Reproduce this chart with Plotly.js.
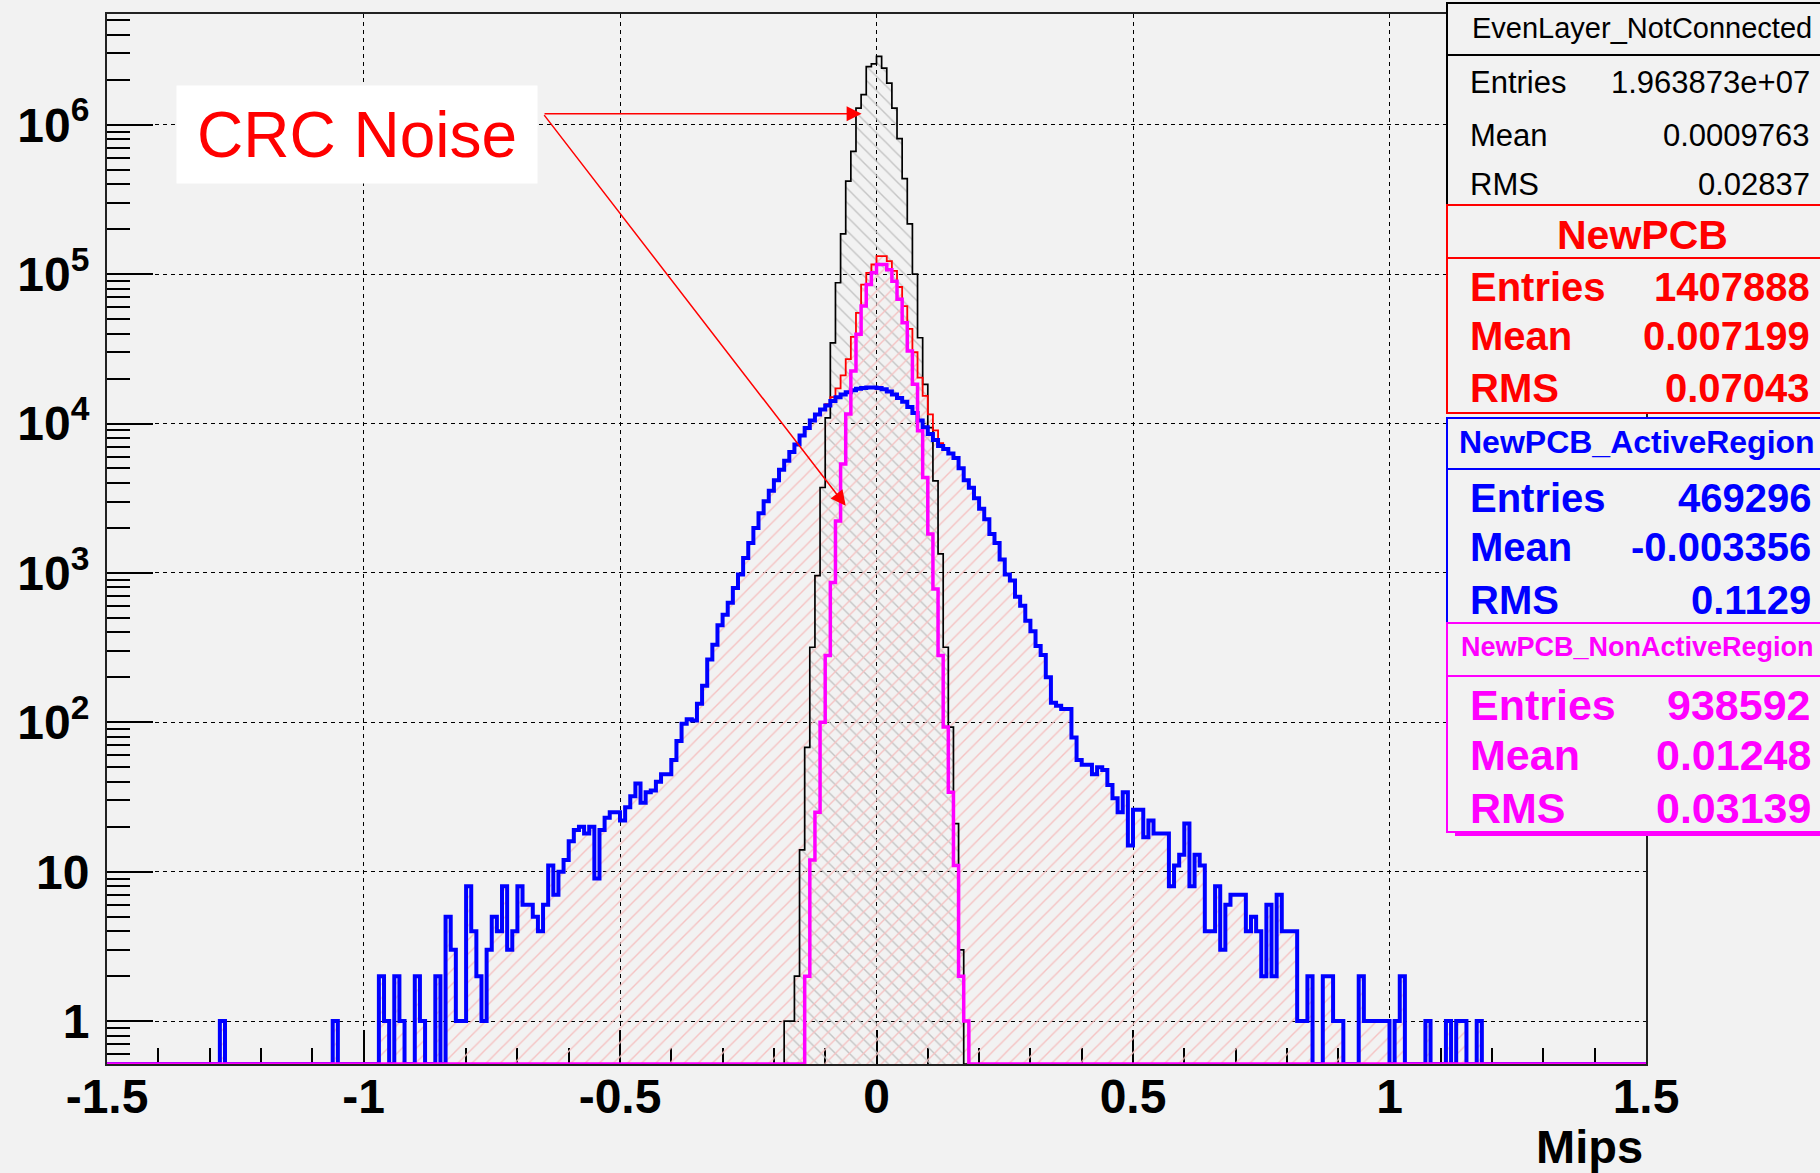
<!DOCTYPE html>
<html>
<head>
<meta charset="utf-8">
<script src="https://cdn.plot.ly/plotly-3.0.1.min.js"></script>
<style>
html,body{margin:0;padding:0;background:#f2f2f2;}
#chart{width:1820px;height:1173px;}
</style>
</head>
<body>
<div id="chart"></div>
<script>
// ---------------- DATA ----------------
const X_MIN = -1.5, X_MAX = 1.5, BIN_WIDTH = 0.01;

// EvenLayer_NotConnected (black), bins of 0.01 starting at blackStart
const blackStart = -0.18;
const blackCounts = [1,1,2,14,68,318,958,3730,10900,34700,
  87500,186000,419000,664000,1290000,1590000,2450000,2550000,
  2870000,2390000,1900000,1290000,807000,436000,217000,100000,37500,18300,
  9400,4130,1340,318,93,21,3];

// NewPCB_ActiveRegion (blue)
const blueStart = -1.28;
const blueCounts = [
  1, 0,0,0,0,0,0,0, 0,0,0,0,0,0,0,0,0,0, 0,0,0,0,
  1, 0,0,0,0,0, 0,0,0,
  2,1,0,2,1,0,0,
  2,1,0,0,2,0,5,3,1,1,
  8,4,2,1,3,5,4,8,3,4,
  8,6,6,5,4,6,11,7,10,12,
  16,19,20,18,20,9,19,23,25,25,
  22,27,32,39,29,34,35,40,45,45,
  56,75,98,105,103,133,176,263,331,447,
  525,631,794,977,1259,1585,1995,2512,3020,3548,
  4169,4898,5623,6457,7244,8318,9333,10471,11482,12400,
  13183,14125,14962,15668,16218,16672,17061,17298,17418,17418,
  17298,16982,16406,15668,14791,13964,12882,11749,10471,9441,
  8511,7762,7079,6761,6310,5888,5012,4169,3715,3162,
  2692,2291,1820,1585,1230,977,891,692,603,479,
  407,324,282,200,135,129,123,123,79,56,
  52,52,45,50,48,38,31,25,34,15,
  26,26,17,22,18,18,18,8,11,13,
  21,8,13,11,4,4,8,3,6,7,
  7,7,4,5,4,2,6,2,7,4,
  4,4,1,1,2,0,0,2,2,1,
  1,0,0,0,2,1,1,1,1,1,
  0,1,2,0,0,0,0,1,0,0,
  0,1,0,1,1,0,0,1];

// NewPCB (red)
const redStart = -1.28;
const redCounts = [
  1, 0,0,0,0,0,0,0, 0,0,0,0,0,0,0,0,0,0, 0,0,0,0,
  1, 0,0,0,0,0, 0,0,0,
  2,1,0,2,1,0,0,
  2,1,0,0,2,0,5,3,1,1,
  8,4,2,1,3,5,4,8,3,4,
  8,6,6,5,4,6,11,7,10,12,
  16,19,20,18,20,9,19,23,25,25,
  22,27,32,39,29,34,35,40,45,45,
  56,75,98,105,103,133,176,263,331,447,
  525,631,794,977,1259,1585,1995,2512,3020,3548,
  4169,4898,5623,6457,7244,8318,9333,10471,11482,12400,
  13500,15000,17200,21000,27000,38000,55000,85000,102000,116000,
  132000,132000,122000,105000,82000,61000,43000,30000,20300,15300,
  11500,9000,7400,6850,6340,5900,5012,4169,3715,3162,
  2692,2291,1820,1585,1230,977,891,692,603,479,
  407,324,282,200,135,129,123,123,79,56,
  52,52,45,50,48,38,31,25,34,15,
  26,26,17,22,18,18,18,8,11,13,
  21,8,13,11,4,4,8,3,6,7,
  7,7,4,5,4,2,6,2,7,4,
  4,4,1,1,2,0,0,2,2,1,
  1,0,0,0,2,1,1,1,1,1,
  0,1,2,0,0,0,0,1,0,0,
  0,1,0,1,1,0,0,1];

// NewPCB_NonActiveRegion (magenta)
const magentaStart = -0.14;
const magentaCounts = [2,12,25,100,280,864,2230,5350,11600,22500,
  39600,61100,85300,102000,116000,116000,107000,89700,67800,47300,
  30600,18300,8930,4350,1820,780,280,93,34,11,2,1];

// Axis ticks
const xTickVals = [-1.5,-1,-0.5,0,0.5,1,1.5];
const xTickText = ['-1.5','-1','-0.5','0','0.5','1','1.5'];
const yTickVals = [1,10,100,1000,10000,100000,1000000];
const yTickText = ['1','10','10<sup>2</sup>','10<sup>3</sup>','10<sup>4</sup>','10<sup>5</sup>','10<sup>6</sup>'];
const xTitle = 'Mips';
const noteText = 'CRC Noise';

// Stats boxes
const statTitles = ['EvenLayer_NotConnected','NewPCB','NewPCB_ActiveRegion','NewPCB_NonActiveRegion'];
const statLabels = ['Entries','Mean','RMS'];
const statValues = [
  ['1.963873e+07','0.0009763','0.02837'],
  ['1407888','0.007199','0.07043'],
  ['469296','-0.003356','0.1129'],
  ['938592','0.01248','0.03139']];

// ---------------- BUILD ----------------
const Y_RANGE = [-0.287, 6.741];
const FLOOR = Math.pow(10, Y_RANGE[0]);
const N_BINS = Math.round((X_MAX - X_MIN) / BIN_WIDTH);
const edges = [];
for (let i = 0; i <= N_BINS; i++) edges.push(+(X_MIN + i * BIN_WIDTH).toFixed(4));

function expand(start, counts) {
  const full = new Array(N_BINS).fill(0);
  const off = Math.round((start - X_MIN) / BIN_WIDTH);
  counts.forEach((c, k) => { full[off + k] = c; });
  return full;
}
function stepY(full) {
  const y = full.map(c => (c > 0 ? c : FLOOR));
  y.push(FLOOR);
  return y;
}
const blackY = stepY(expand(blackStart, blackCounts));
const redY = stepY(expand(redStart, redCounts));
const blueY = stepY(expand(blueStart, blueCounts));
const magentaY = stepY(expand(magentaStart, magentaCounts));

const traces = [
  {x: edges, y: blackY, type: 'scatter', mode: 'lines', line: {shape: 'hv', width: 0, color: 'rgba(0,0,0,0)'},
   fill: 'tozeroy', fillcolor: 'rgba(0,0,0,0)',
   fillpattern: {shape: '\\', fgcolor: '#c4c4c4', bgcolor: 'rgba(0,0,0,0)', size: 10, solidity: 0.14}},
  {x: edges, y: redY, type: 'scatter', mode: 'lines', line: {shape: 'hv', width: 0, color: 'rgba(0,0,0,0)'},
   fill: 'tozeroy', fillcolor: 'rgba(0,0,0,0)',
   fillpattern: {shape: '/', fgcolor: '#f5c2c2', bgcolor: 'rgba(0,0,0,0)', size: 10, solidity: 0.14}},
  {x: edges, y: blackY, type: 'scatter', mode: 'lines', line: {shape: 'hv', width: 1.7, color: '#000000'}},
  {x: edges, y: redY, type: 'scatter', mode: 'lines', line: {shape: 'hv', width: 1.8, color: '#ff0000'}},
  {x: edges, y: blueY, type: 'scatter', mode: 'lines', line: {shape: 'hv', width: 4, color: '#0000ff'}},
  {x: edges, y: magentaY, type: 'scatter', mode: 'lines', line: {shape: 'hv', width: 3.5, color: '#ff00ff'}}
];

// plot-area geometry in pixels
const L = 107, R = 1646, T = 14, B = 1064;
const px = x => (x - L) / (R - L);
const py = y => (B - y) / (B - T);
const FONT = 'Liberation Sans, Arial, Helvetica, sans-serif';

const minorY = [];
for (let d = -1; d <= 6; d++) for (let m = 2; m <= 9; m++) {
  const v = m * Math.pow(10, d);
  if (Math.log10(v) > Y_RANGE[0] && Math.log10(v) < Y_RANGE[1]) minorY.push(v);
}

const shapes = [];
const annotations = [];
function box(x0, y0, y1, ysep, color) {
  shapes.push({type: 'rect', xref: 'paper', yref: 'paper', x0: px(x0), x1: px(1850), y0: py(y1), y1: py(y0),
    fillcolor: '#f2f2f2', line: {color: color, width: 2}, layer: 'above'});
  shapes.push({type: 'line', xref: 'paper', yref: 'paper', x0: px(x0), x1: px(1850), y0: py(ysep), y1: py(ysep),
    line: {color: color, width: 2}, layer: 'above'});
}
function txt(text, x, y, anchor, size, color, bold) {
  annotations.push({text: text, xref: 'paper', yref: 'paper', x: px(x), y: py(y), xanchor: anchor, yanchor: 'middle',
    showarrow: false, font: {family: FONT, size: size, color: color, weight: bold ? 'bold' : 'normal'}});
}

// stats boxes
const boxGeom = [
  {y0: 3, sep: 55, y1: 205, color: '#000000', tx: 1470, ty: 28, tanchor: 'left', tsize: 29, tbold: false, rows: [82, 135, 185], rsize: 31, rbold: false, vx: 1812},
  {y0: 205, sep: 258, y1: 413, color: '#ff0000', tx: 1642, ty: 235, tanchor: 'center', tsize: 41, tbold: true, rows: [287, 336, 388], rsize: 40, rbold: true, vx: 1812},
  {y0: 418, sep: 469, y1: 623, color: '#0000ff', tx: 1457, ty: 442, tanchor: 'left', tsize: 32, tbold: true, rows: [498, 547, 600], rsize: 40, rbold: true, vx: 1813},
  {y0: 623, sep: 676, y1: 832, color: '#ff00ff', tx: 1459, ty: 647, tanchor: 'left', tsize: 27, tbold: true, rows: [705, 755, 808], rsize: 43, rbold: true, vx: 1813}
];
boxGeom.forEach((g, i) => {
  box(1447, g.y0, g.y1, g.sep, g.color);
  txt(statTitles[i], g.tx, g.ty, g.tanchor, g.tsize, g.color, g.tbold);
  statLabels.forEach((lab, j) => {
    txt(lab, 1468, g.rows[j], 'left', g.rsize, g.color, g.rbold);
    txt(statValues[i][j], g.vx, g.rows[j], 'right', g.rsize, g.color, g.rbold);
  });
});
// shadow under last box
shapes.push({type: 'rect', xref: 'paper', yref: 'paper', x0: px(1455), x1: px(1850), y0: py(836), y1: py(832),
  fillcolor: '#ff00ff', line: {width: 0}, layer: 'above'});

// CRC Noise label
annotations.push({text: noteText, xref: 'paper', yref: 'paper', x: px(357), y: py(134.5), xanchor: 'center', yanchor: 'middle',
  showarrow: false, bgcolor: '#ffffff', width: 360, height: 97, borderpad: 0,
  font: {family: FONT, size: 64, color: '#ff0000'}});
// arrows (tail at the label's right edge)
const tail = {x: -0.650, y: 6.074};
[{x: -0.029, y: 6.074}, {x: -0.060, y: 3.449}].forEach(tip => {
  annotations.push({text: '', x: tip.x, y: tip.y, xref: 'x', yref: 'y', ax: tail.x, ay: tail.y, axref: 'x', ayref: 'y',
    showarrow: true, arrowhead: 2, arrowsize: 2, arrowwidth: 1.5, arrowcolor: '#ff0000', standoff: 0, startstandoff: 0});
});
// axis title
annotations.push({text: xTitle, xref: 'paper', yref: 'paper', x: px(1645), y: py(1146), xanchor: 'right', yanchor: 'middle',
  showarrow: false, font: {family: FONT, size: 47, color: '#000000', weight: 'bold'}});

const layout = {
  width: 1820, height: 1173,
  margin: {l: L, r: 1820 - R, t: T, b: 1173 - B, pad: 0},
  paper_bgcolor: '#f2f2f2', plot_bgcolor: '#f2f2f2',
  showlegend: false, hovermode: false,
  xaxis: {
    range: [X_MIN, X_MAX], tickmode: 'array', tickvals: xTickVals, ticktext: xTickText,
    ticks: 'inside', ticklen: 34, tickwidth: 2, tickcolor: '#000',
    minor: {ticks: 'inside', dtick: 0.1, tick0: 0, ticklen: 16, tickwidth: 2, tickcolor: '#000', showgrid: false},
    showgrid: true, gridcolor: '#000', gridwidth: 1, griddash: '4px,4px',
    showline: true, linecolor: '#222', linewidth: 2, mirror: true, zeroline: false,
    tickfont: {family: FONT, size: 48, color: '#000', weight: 'bold'}, ticklabelstandoff: -11,
    layer: 'below traces'
  },
  yaxis: {
    type: 'log', range: Y_RANGE, tickmode: 'array', tickvals: yTickVals, ticktext: yTickText,
    ticks: 'inside', ticklen: 46, tickwidth: 2, tickcolor: '#000',
    minor: {ticks: 'inside', tickmode: 'array', tickvals: minorY, ticklen: 23, tickwidth: 2, tickcolor: '#000', showgrid: false},
    showgrid: true, gridcolor: '#000', gridwidth: 1, griddash: '4px,4px',
    showline: true, linecolor: '#222', linewidth: 2, mirror: true, zeroline: false,
    tickfont: {family: FONT, size: 48, color: '#000', weight: 'bold'}, ticklabelstandoff: 6,
    layer: 'below traces'
  },
  shapes: shapes,
  annotations: annotations
};

Plotly.newPlot('chart', traces, layout, {displayModeBar: false, staticPlot: true});
</script>
</body>
</html>
